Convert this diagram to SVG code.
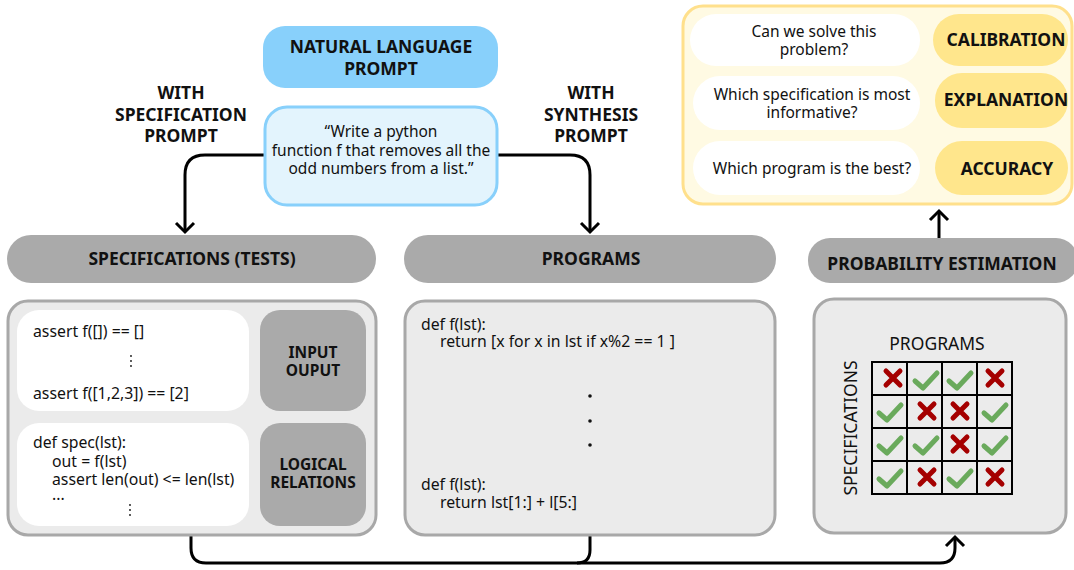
<svg xmlns="http://www.w3.org/2000/svg" width="1074" height="570" viewBox="0 0 1074 570">
<defs>
<style>
text{font-family:"Noto Sans","Open Sans","DejaVu Sans",sans-serif;fill:#111;}
.b{font-weight:bold;font-size:17.5px;}
.bs{font-weight:bold;font-size:15.5px;}
.t{font-size:15.5px;}
.k{font-size:15.8px;}
.c{text-anchor:middle;}
.pill{fill:#aaaaaa;}
.body{fill:#ebebeb;stroke:#a8a8a8;stroke-width:3;}
.wh{fill:#ffffff;}
.yp{fill:#ffe68c;}
.conn{fill:none;stroke:#000;stroke-width:3;}
.x{stroke:#a50000;stroke-width:5;stroke-linecap:round;fill:none;}
.v{stroke:#6aaa5c;stroke-width:5;stroke-linecap:round;stroke-linejoin:round;fill:none;}
.grid{fill:none;stroke:#000;stroke-width:2;}
.dot{fill:#111;}
</style>
<g id="xm"><path class="x" d="M-7,-7L7,7M7,-7L-7,7"/></g>
<g id="vm"><path class="v" d="M-11,1L-3,8L11,-7"/></g>
</defs>

<g id="connectors">
<path class="conn" d="M264,155 H205 Q185,155 185,175 V232"/>
<path class="conn" d="M176,223 L185,232 L194,223"/>
<path class="conn" d="M497,155 H570 Q590,155 590,175 V232"/>
<path class="conn" d="M581,223 L590,232 L599,223"/>
<path class="conn" d="M191,536 V548 Q191,563 206,563 H940 Q955,563 955,548 V537"/>
<path class="conn" d="M946,546 L955,537 L964,546"/>
<path class="conn" d="M590,536 V550 Q590,563 577,563"/>
<path class="conn" d="M939,238 V211"/>
<path class="conn" d="M930,220 L939,211 L948,220"/>
</g>

<g id="nl-prompt">
<rect x="263" y="26" width="235" height="62" rx="22" fill="#88d0fb"/>
<text class="b c" x="381" y="53">NATURAL LANGUAGE</text>
<text class="b c" x="381" y="75">PROMPT</text>
</g>

<g id="quote">
<rect x="265" y="107" width="232" height="98" rx="22" fill="#e3f4fd" stroke="#88d0fb" stroke-width="3"/>
<text class="t c" x="381" y="137">“Write a python</text>
<text class="t c" x="381" y="156">function f that removes all the</text>
<text class="t c" x="381" y="174">odd numbers from a list.”</text>
</g>

<g id="label-spec">
<text class="b c" x="181" y="99">WITH</text>
<text class="b c" x="181" y="121">SPECIFICATION</text>
<text class="b c" x="181" y="142">PROMPT</text>
</g>
<g id="label-synth">
<text class="b c" x="591" y="99">WITH</text>
<text class="b c" x="591" y="121">SYNTHESIS</text>
<text class="b c" x="591" y="142">PROMPT</text>
</g>

<g id="spec-header">
<rect class="pill" x="7" y="235" width="369" height="48" rx="24"/>
<text class="b c" x="192" y="265">SPECIFICATIONS (TESTS)</text>
</g>
<g id="prog-header">
<rect class="pill" x="404" y="235" width="372" height="48" rx="24"/>
<text class="b c" x="591" y="265">PROGRAMS</text>
</g>
<g id="prob-header">
<rect class="pill" x="808" y="238" width="270" height="45" rx="22"/>
<text class="b c" x="942" y="270">PROBABILITY ESTIMATION</text>
</g>

<g id="spec-body">
<rect class="body" x="8" y="301" width="368" height="234" rx="20"/>
<rect class="wh" x="17" y="310" width="232" height="101" rx="22"/>
<rect class="pill" x="260" y="310" width="106" height="101" rx="20"/>
<text class="bs c" x="313" y="358">INPUT</text>
<text class="bs c" x="313" y="376">OUPUT</text>
<text class="k" x="33" y="337">assert f([]) == []</text>
<circle class="dot" cx="131" cy="356" r="0.9"/>
<circle class="dot" cx="131" cy="361" r="0.9"/>
<circle class="dot" cx="131" cy="366" r="0.9"/>
<text class="k" x="33" y="399">assert f([1,2,3]) == [2]</text>
<rect class="wh" x="17" y="423" width="232" height="103" rx="22"/>
<rect class="pill" x="260" y="423" width="106" height="103" rx="20"/>
<text class="bs c" x="313" y="470">LOGICAL</text>
<text class="bs c" x="313" y="488">RELATIONS</text>
<text class="k" x="33" y="448">def spec(lst):</text>
<text class="k" x="52" y="467">out = f(lst)</text>
<text class="k" x="52" y="485">assert len(out) &lt;= len(lst)</text>
<text class="k" x="52" y="500">...</text>
<circle class="dot" cx="130" cy="505" r="0.9"/>
<circle class="dot" cx="130" cy="510" r="0.9"/>
<circle class="dot" cx="130" cy="515" r="0.9"/>
</g>

<g id="prog-body">
<rect class="body" x="405" y="301" width="370" height="234" rx="20"/>
<text class="k" x="421" y="330">def f(lst):</text>
<text class="k" x="440" y="347">return [x for x in lst if x%2 == 1 ]</text>
<circle cx="590" cy="396" r="1.8" fill="#111"/>
<circle cx="590" cy="421" r="1.8" fill="#111"/>
<circle cx="590" cy="445" r="1.8" fill="#111"/>
<text class="k" x="421" y="490">def f(lst):</text>
<text class="k" x="440" y="508">return lst[1:] + l[5:]</text>
</g>

<g id="prob-body">
<rect class="body" x="814" y="299" width="252" height="234" rx="20"/>
<text class="c" x="937" y="350" style="font-size:17.5px">PROGRAMS</text>
<text class="c" transform="translate(857,428) rotate(-90)" style="font-size:17.5px">SPECIFICATIONS</text>
<rect class="grid" x="872" y="362" width="140" height="132"/>
<path class="grid" d="M907,362V494M942,362V494M977,362V494M872,395H1012M872,428H1012M872,461H1012"/>
<use href="#xm" x="893" y="378"/>
<use href="#vm" x="926" y="380"/>
<use href="#vm" x="960" y="380"/>
<use href="#xm" x="995" y="378"/>
<use href="#vm" x="890" y="412"/>
<use href="#xm" x="927" y="411"/>
<use href="#xm" x="960" y="411"/>
<use href="#vm" x="995" y="412"/>
<use href="#vm" x="890" y="445"/>
<use href="#vm" x="926" y="445"/>
<use href="#xm" x="960" y="444"/>
<use href="#vm" x="995" y="445"/>
<use href="#vm" x="890" y="478"/>
<use href="#xm" x="927" y="477"/>
<use href="#vm" x="960" y="478"/>
<use href="#xm" x="995" y="477"/>
</g>

<g id="outputs">
<rect x="683" y="6" width="389" height="198" rx="20" fill="#fffae3" stroke="#ffe08c" stroke-width="3"/>
<rect class="wh" x="690" y="14" width="230" height="52" rx="26"/>
<rect class="wh" x="693" y="76" width="227" height="54" rx="27"/>
<rect class="wh" x="693" y="141" width="227" height="54" rx="27"/>
<rect class="yp" x="933" y="14" width="135" height="52" rx="26"/>
<rect class="yp" x="935" y="73" width="133" height="55" rx="27"/>
<rect class="yp" x="935" y="141" width="133" height="54" rx="27"/>
<text class="t c" x="814" y="37">Can we solve this</text>
<text class="t c" x="814" y="55">problem?</text>
<text class="t c" x="812" y="100">Which specification is most</text>
<text class="t c" x="812" y="118">informative?</text>
<text class="t c" x="812" y="174">Which program is the best?</text>
<text class="b c" x="1006" y="46">CALIBRATION</text>
<text class="b c" x="1006" y="106">EXPLANATION</text>
<text class="b c" x="1007" y="175">ACCURACY</text>
</g>
</svg>
